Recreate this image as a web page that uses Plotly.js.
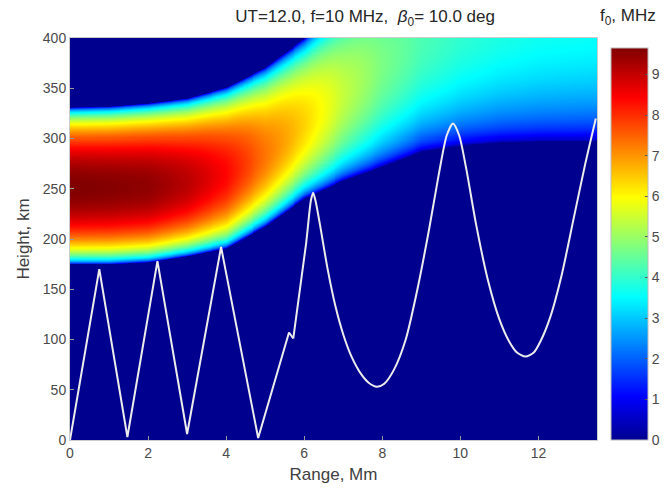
<!DOCTYPE html>
<html>
<head>
<meta charset="utf-8">
<script src="https://cdn.plot.ly/plotly-3.0.1.min.js"></script>
<style>html,body{margin:0;padding:0;background:#fff;}#chart{width:665px;height:497px;}</style>
</head>
<body>
<div id="chart"></div>
<script>
// Layer parameters, per range knot (Mm)
var rangeKnots  = [0,    1,    2,    3,    4,    5,    6,    7,    8,    9,    10,   11,   12,   13.5];
var peakFreq    = [9.65, 9.6,  9.5,  9.1,  8.4,  7.3,  6.4,  5.4,  4.7,  4.25, 4.0,  3.85, 3.75, 3.7];
var peakHeight  = [252,  252,  253,  257,  266,  285,  315,  345,  375,  400,  415,  425,  430,  435];
var bottomEdge  = [175,  175,  177,  183,  191,  213,  241,  259,  273,  288,  294,  297,  298,  298];
var topEdge     = [331,  332,  335,  340,  351,  371,  400,  440,  480,  510,  530,  540,  545,  550];

// Ray path
var rayRange  = [0, 0.75, 1.47, 2.24, 3.0, 3.87, 4.82, 5.61, 5.72, 6.05, 6.17, 6.23, 6.3, 6.4, 6.6, 6.8, 7.0, 7.2, 7.45, 7.65, 7.86, 8.05, 8.3, 8.6, 8.9, 9.2, 9.45, 9.65, 9.81, 9.97, 10.15, 10.4, 10.7, 11.0, 11.25, 11.45, 11.67, 11.88, 12.05, 12.3, 12.6, 12.9, 13.2, 13.47];
var rayHeight = [0, 170,  3,    178,  6,   192,  2,    107,  101,  196,  238,  246,  236, 215, 170, 133, 105, 84,  66,   57,   53,   56,   70,  100, 150, 210, 265,  303,  315,  303,  270,   215,  160,  120,  98,    87,    83,    87,    98,    122,  165,  220,  275,  320];
var sharpCount = 9; // first points: straight hops with sharp turns

var xTicks = [0, 2, 4, 6, 8, 10, 12];
var yTicks = [0, 50, 100, 150, 200, 250, 300, 350, 400];
var cTicks = [0, 1, 2, 3, 4, 5, 6, 7, 8, 9];

function lerp(arr, r) {
  for (var i = 0; i < rangeKnots.length - 1; i++) {
    if (r <= rangeKnots[i + 1]) {
      var t = (r - rangeKnots[i]) / (rangeKnots[i + 1] - rangeKnots[i]);
      return arr[i] + t * (arr[i + 1] - arr[i]);
    }
  }
  return arr[arr.length - 1];
}

var gx = [], gy = [], gz = [];
for (var r = 0; r <= 13.5001; r += 0.05) gx.push(+r.toFixed(3));
for (var h = 0; h <= 400; h += 1) gy.push(h);
for (var j = 0; j < gy.length; j++) {
  var row = [];
  for (var i = 0; i < gx.length; i++) {
    var fm = lerp(peakFreq, gx[i]), hm = lerp(peakHeight, gx[i]);
    var hb = lerp(bottomEdge, gx[i]), ht = lerp(topEdge, gx[i]);
    var hh = gy[j], u;
    if (hh <= hm) u = (hm - hh) / (hm - hb); else u = (hh - hm) / (ht - hm);
    row.push(u >= 1 ? 0 : fm * Math.sqrt(1 - u * u));
  }
  gz.push(row);
}

var jet = [
  [0, 'rgb(0,0,143)'], [0.111, 'rgb(0,0,255)'], [0.365, 'rgb(0,255,255)'],
  [0.619, 'rgb(255,255,0)'], [0.873, 'rgb(255,0,0)'], [1, 'rgb(128,0,0)']
];

var FAM = 'Liberation Sans, Arial, sans-serif';
var fnt = {family: FAM, size: 14, color: '#4a4a4a'};

var traces = [
  {
    type: 'heatmap', x: gx, y: gy, z: gz, zmin: 0, zmax: 9.65,
    colorscale: jet, zsmooth: 'best', hoverinfo: 'skip',
    colorbar: {
      xref: 'container',
      x: 611 / 665, xanchor: 'left', xpad: 0,
      y: 0, yanchor: 'bottom', ypad: 0,
      len: 392, lenmode: 'pixels', thickness: 37,
      tickvals: cTicks, ticks: 'inside', ticklen: 3, tickcolor: '#555',
      tickfont: fnt, outlinewidth: 1, outlinecolor: '#bbb'
    }
  },
  {
    type: 'scatter', mode: 'lines',
    x: rayRange.slice(0, sharpCount), y: rayHeight.slice(0, sharpCount),
    line: {color: '#ececec', width: 2}, hoverinfo: 'skip', showlegend: false
  },
  {
    type: 'scatter', mode: 'lines',
    x: rayRange.slice(sharpCount - 1), y: rayHeight.slice(sharpCount - 1),
    line: {color: '#ececec', width: 2, shape: 'spline', smoothing: 0.7}, hoverinfo: 'skip', showlegend: false
  }
];

var layout = {
  width: 665, height: 497,
  margin: {l: 70, r: 68, t: 38, b: 57},
  paper_bgcolor: '#fff', plot_bgcolor: '#fff',
  font: fnt,
  showlegend: false,
  title: {
    text: 'UT=12.0, f=10 MHz,  <i>β</i><sub>0</sub>= 10.0 deg',
    x: 0.56, xanchor: 'center', xref: 'paper', y: 0.967, yanchor: 'middle',
    font: {family: FAM, size: 17, color: '#262626'}
  },
  xaxis: {
    range: [0, 13.5], tickvals: xTicks, ticks: 'inside', ticklen: 4, tickcolor: '#999',
    showgrid: false, zeroline: false, showline: true, mirror: true, linecolor: '#ccc', linewidth: 1,
    tickfont: fnt, title: {text: 'Range, Mm', font: {family: FAM, size: 17, color: '#404040'}, standoff: 8}
  },
  yaxis: {
    range: [0, 400], tickvals: yTicks, ticks: 'inside', ticklen: 4, tickcolor: '#999',
    showgrid: false, zeroline: false, showline: true, mirror: true, linecolor: '#ccc', linewidth: 1,
    tickfont: fnt, title: {text: 'Height, km', font: {family: FAM, size: 17, color: '#404040'}, standoff: 8}
  },
  annotations: [{
    text: 'f<sub>0</sub>, MHz', xref: 'paper', yref: 'paper',
    x: (628 - 70) / 527, y: (440 - 17) / 402, xanchor: 'center', yanchor: 'middle', showarrow: false,
    font: {family: FAM, size: 17, color: '#262626'}
  }]
};

Plotly.newPlot('chart', traces, layout, {displayModeBar: false, staticPlot: true});
</script>
</body>
</html>
